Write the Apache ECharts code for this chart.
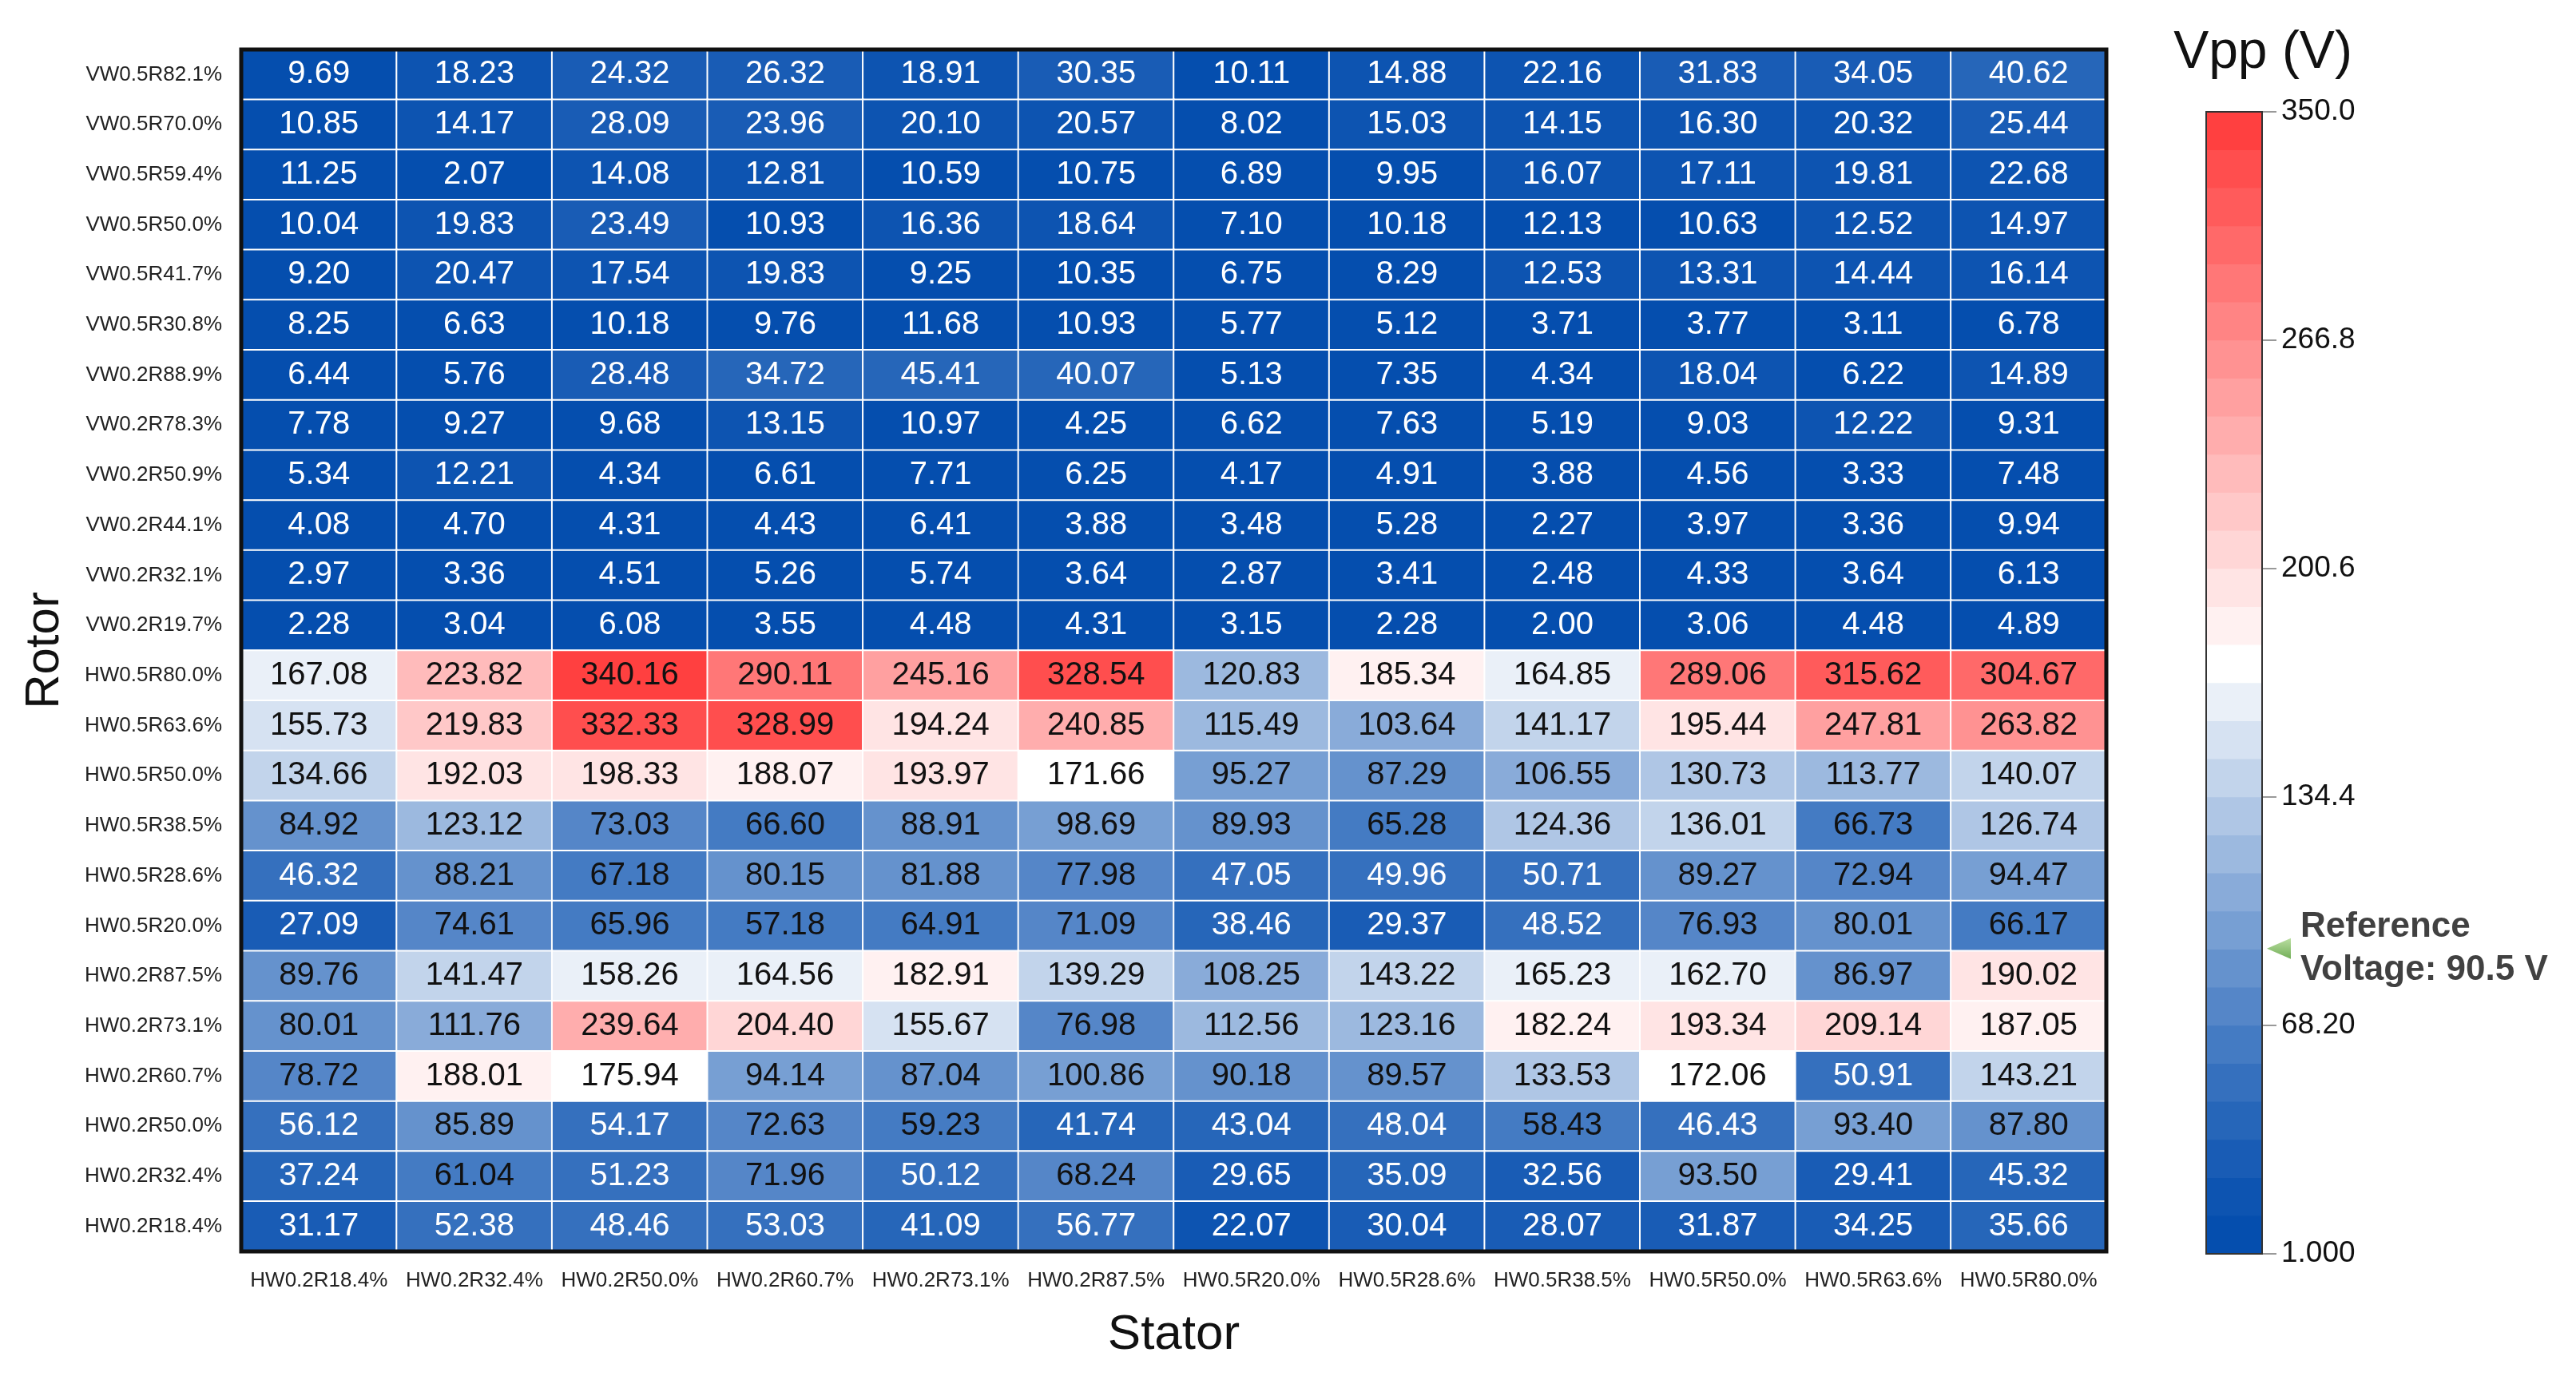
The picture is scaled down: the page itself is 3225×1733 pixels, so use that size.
<!DOCTYPE html>
<html><head><meta charset="utf-8">
<script src="https://cdn.jsdelivr.net/npm/echarts@6/dist/echarts.min.js"></script>
<style>html,body{margin:0;padding:0;background:#fff}#c{width:3225px;height:1733px}</style>
</head><body><div id="c"></div>
<script>
const statorLabels = ['HW0.2R18.4%','HW0.2R32.4%','HW0.2R50.0%','HW0.2R60.7%','HW0.2R73.1%','HW0.2R87.5%','HW0.5R20.0%','HW0.5R28.6%','HW0.5R38.5%','HW0.5R50.0%','HW0.5R63.6%','HW0.5R80.0%'];
// rotor rows, listed top to bottom
const rotorLabels = ['VW0.5R82.1%','VW0.5R70.0%','VW0.5R59.4%','VW0.5R50.0%','VW0.5R41.7%','VW0.5R30.8%','VW0.2R88.9%','VW0.2R78.3%','VW0.2R50.9%','VW0.2R44.1%','VW0.2R32.1%','VW0.2R19.7%','HW0.5R80.0%','HW0.5R63.6%','HW0.5R50.0%','HW0.5R38.5%','HW0.5R28.6%','HW0.5R20.0%','HW0.2R87.5%','HW0.2R73.1%','HW0.2R60.7%','HW0.2R50.0%','HW0.2R32.4%','HW0.2R18.4%'];
const vppRows = [
  [9.69, 18.23, 24.32, 26.32, 18.91, 30.35, 10.11, 14.88, 22.16, 31.83, 34.05, 40.62],
  [10.85, 14.17, 28.09, 23.96, 20.10, 20.57, 8.02, 15.03, 14.15, 16.30, 20.32, 25.44],
  [11.25, 2.07, 14.08, 12.81, 10.59, 10.75, 6.89, 9.95, 16.07, 17.11, 19.81, 22.68],
  [10.04, 19.83, 23.49, 10.93, 16.36, 18.64, 7.10, 10.18, 12.13, 10.63, 12.52, 14.97],
  [9.20, 20.47, 17.54, 19.83, 9.25, 10.35, 6.75, 8.29, 12.53, 13.31, 14.44, 16.14],
  [8.25, 6.63, 10.18, 9.76, 11.68, 10.93, 5.77, 5.12, 3.71, 3.77, 3.11, 6.78],
  [6.44, 5.76, 28.48, 34.72, 45.41, 40.07, 5.13, 7.35, 4.34, 18.04, 6.22, 14.89],
  [7.78, 9.27, 9.68, 13.15, 10.97, 4.25, 6.62, 7.63, 5.19, 9.03, 12.22, 9.31],
  [5.34, 12.21, 4.34, 6.61, 7.71, 6.25, 4.17, 4.91, 3.88, 4.56, 3.33, 7.48],
  [4.08, 4.70, 4.31, 4.43, 6.41, 3.88, 3.48, 5.28, 2.27, 3.97, 3.36, 9.94],
  [2.97, 3.36, 4.51, 5.26, 5.74, 3.64, 2.87, 3.41, 2.48, 4.33, 3.64, 6.13],
  [2.28, 3.04, 6.08, 3.55, 4.48, 4.31, 3.15, 2.28, 2.00, 3.06, 4.48, 4.89],
  [167.08, 223.82, 340.16, 290.11, 245.16, 328.54, 120.83, 185.34, 164.85, 289.06, 315.62, 304.67],
  [155.73, 219.83, 332.33, 328.99, 194.24, 240.85, 115.49, 103.64, 141.17, 195.44, 247.81, 263.82],
  [134.66, 192.03, 198.33, 188.07, 193.97, 171.66, 95.27, 87.29, 106.55, 130.73, 113.77, 140.07],
  [84.92, 123.12, 73.03, 66.60, 88.91, 98.69, 89.93, 65.28, 124.36, 136.01, 66.73, 126.74],
  [46.32, 88.21, 67.18, 80.15, 81.88, 77.98, 47.05, 49.96, 50.71, 89.27, 72.94, 94.47],
  [27.09, 74.61, 65.96, 57.18, 64.91, 71.09, 38.46, 29.37, 48.52, 76.93, 80.01, 66.17],
  [89.76, 141.47, 158.26, 164.56, 182.91, 139.29, 108.25, 143.22, 165.23, 162.70, 86.97, 190.02],
  [80.01, 111.76, 239.64, 204.40, 155.67, 76.98, 112.56, 123.16, 182.24, 193.34, 209.14, 187.05],
  [78.72, 188.01, 175.94, 94.14, 87.04, 100.86, 90.18, 89.57, 133.53, 172.06, 50.91, 143.21],
  [56.12, 85.89, 54.17, 72.63, 59.23, 41.74, 43.04, 48.04, 58.43, 46.43, 93.40, 87.80],
  [37.24, 61.04, 51.23, 71.96, 50.12, 68.24, 29.65, 35.09, 32.56, 93.50, 29.41, 45.32],
  [31.17, 52.38, 48.46, 53.03, 41.09, 56.77, 22.07, 30.04, 28.07, 31.87, 34.25, 35.66]
];
const colorbarTicks = [1, 68.2, 134.4, 200.6, 266.8, 350];
const colorbarTickLabels = ['1.000', '68.20', '134.4', '200.6', '266.8', '350.0'];
const bandsPerSegment = 6;
const referenceVoltage = 90.5;
const colorbarTitle = 'Vpp (V)';

// ---- colour bands (stepped diverging scale) ----
const bounds = [];
for (let s = 0; s < colorbarTicks.length - 1; s++) {
  for (let k = 0; k < bandsPerSegment; k++) {
    bounds.push(colorbarTicks[s] + (colorbarTicks[s + 1] - colorbarTicks[s]) * k / bandsPerSegment);
  }
}
bounds.push(colorbarTicks[colorbarTicks.length - 1]);
const nBands = bounds.length - 1;
const whiteBand = 15;
const darkBlue = [5, 78, 174], white = [255, 255, 255], red = [255, 64, 64];
function mix(a, b, t) { return 'rgb(' + a.map((v, i) => Math.round(v + (b[i] - v) * t)).join(',') + ')'; }
function bandColor(i) {
  if (i < whiteBand) return mix(darkBlue, white, Math.pow(i / whiteBand, 1.25));
  return mix(white, red, (i - whiteBand) / (nBands - 1 - whiteBand));
}
const pieces = [];
for (let i = 0; i < nBands; i++) {
  const p = { gte: bounds[i], color: bandColor(i) };
  if (i === nBands - 1) p.lte = bounds[i + 1]; else p.lt = bounds[i + 1];
  pieces.push(p);
}
function bandOf(v) {
  for (let i = 0; i < nBands; i++) if (v < bounds[i + 1]) return i;
  return nBands - 1;
}
const whiteTextBands = 5;

const cellData = [];
vppRows.forEach((row, r) => row.forEach((v, c) => {
  cellData.push({ value: [c, r, v], label: { color: bandOf(v) < whiteTextBands ? '#ffffff' : '#111111' } });
}));
const bandIdx = [];
const barData = [];
for (let i = 0; i < nBands; i++) { bandIdx.push(String(i)); barData.push([0, i, (bounds[i] + bounds[i + 1]) / 2]); }

function barPos(v) {
  for (let s = 0; s < colorbarTicks.length - 1; s++) {
    if (v <= colorbarTicks[s + 1]) return s * bandsPerSegment + (v - colorbarTicks[s]) / (colorbarTicks[s + 1] - colorbarTicks[s]) * bandsPerSegment;
  }
  return nBands;
}

const chart = echarts.init(document.getElementById('c'));
chart.setOption({
  animation: false,
  backgroundColor: '#ffffff',
  textStyle: { fontFamily: 'Liberation Sans, Arial, sans-serif' },
  title: { text: colorbarTitle, left: 2833, top: 34, textAlign: 'center', padding: 0,
    textStyle: { fontSize: 66, fontWeight: 'normal', color: '#111' } },
  grid: [
    { left: 302, top: 62, width: 2335, height: 1505, show: true, borderColor: '#111', borderWidth: 5, z: 5, backgroundColor: 'transparent' },
    { left: 2762, top: 140, width: 70, height: 1430, show: true, borderColor: '#333', borderWidth: 2, z: 5, backgroundColor: 'transparent' }
  ],
  xAxis: [
    { type: 'category', gridIndex: 0, data: statorLabels, axisTick: { show: false }, axisLine: { show: false },
      splitLine: { show: false },
      axisLabel: { fontSize: 26, color: '#222', margin: 24, interval: 0 },
      name: 'Stator', nameLocation: 'middle', nameGap: 74, nameTextStyle: { fontSize: 62, color: '#111' } },
    { type: 'category', gridIndex: 1, data: ['bar'], show: false },
    { type: 'value', gridIndex: 1, min: 0, max: 1, show: false }
  ],
  yAxis: [
    { type: 'category', gridIndex: 0, data: rotorLabels, inverse: true, axisTick: { show: false }, axisLine: { show: false },
      splitLine: { show: false },
      axisLabel: { fontSize: 26, color: '#222', margin: 24 },
      name: 'Rotor', nameLocation: 'middle', nameGap: 216, nameRotate: 90, nameTextStyle: { fontSize: 60, color: '#111' } },
    { type: 'category', gridIndex: 1, data: bandIdx, show: false },
    { type: 'value', gridIndex: 1, min: 0, max: nBands, interval: bandsPerSegment, position: 'right',
      axisLine: { show: false }, splitLine: { show: false },
      axisTick: { show: true, length: 18, lineStyle: { color: '#999', width: 2 } },
      axisLabel: { fontSize: 37, color: '#111', margin: 24, formatter: v => colorbarTickLabels[Math.round(v / bandsPerSegment)] } }
  ],
  visualMap: { type: 'piecewise', show: false, dimension: 2, seriesIndex: [0, 1], pieces: pieces },
  series: [
    { type: 'heatmap', xAxisIndex: 0, yAxisIndex: 0, data: cellData,
      itemStyle: { borderColor: '#ffffff', borderWidth: 2 },
      label: { show: true, fontSize: 40, formatter: p => p.value[2].toFixed(2) },
      emphasis: { disabled: true } },
    { type: 'heatmap', xAxisIndex: 1, yAxisIndex: 1, data: barData, label: { show: false },
      itemStyle: { borderWidth: 0 }, emphasis: { disabled: true } },
    { type: 'scatter', xAxisIndex: 2, yAxisIndex: 2, data: [[1, barPos(referenceVoltage)]],
      symbol: 'triangle', symbolRotate: 90, symbolSize: [26, 30], symbolOffset: [21, 0],
      itemStyle: { color: new echarts.graphic.LinearGradient(0, 0, 1, 0, [{ offset: 0, color: '#4f9a2e' }, { offset: 1, color: '#a9d68a' }]) },
      label: { show: true, position: 'right', distance: 12, fontSize: 44, fontWeight: 'bold', lineHeight: 54, color: '#111',
        formatter: 'Reference\nVoltage: ' + referenceVoltage + ' V' },
      emphasis: { disabled: true } }
  ]
});
</script></body></html>
